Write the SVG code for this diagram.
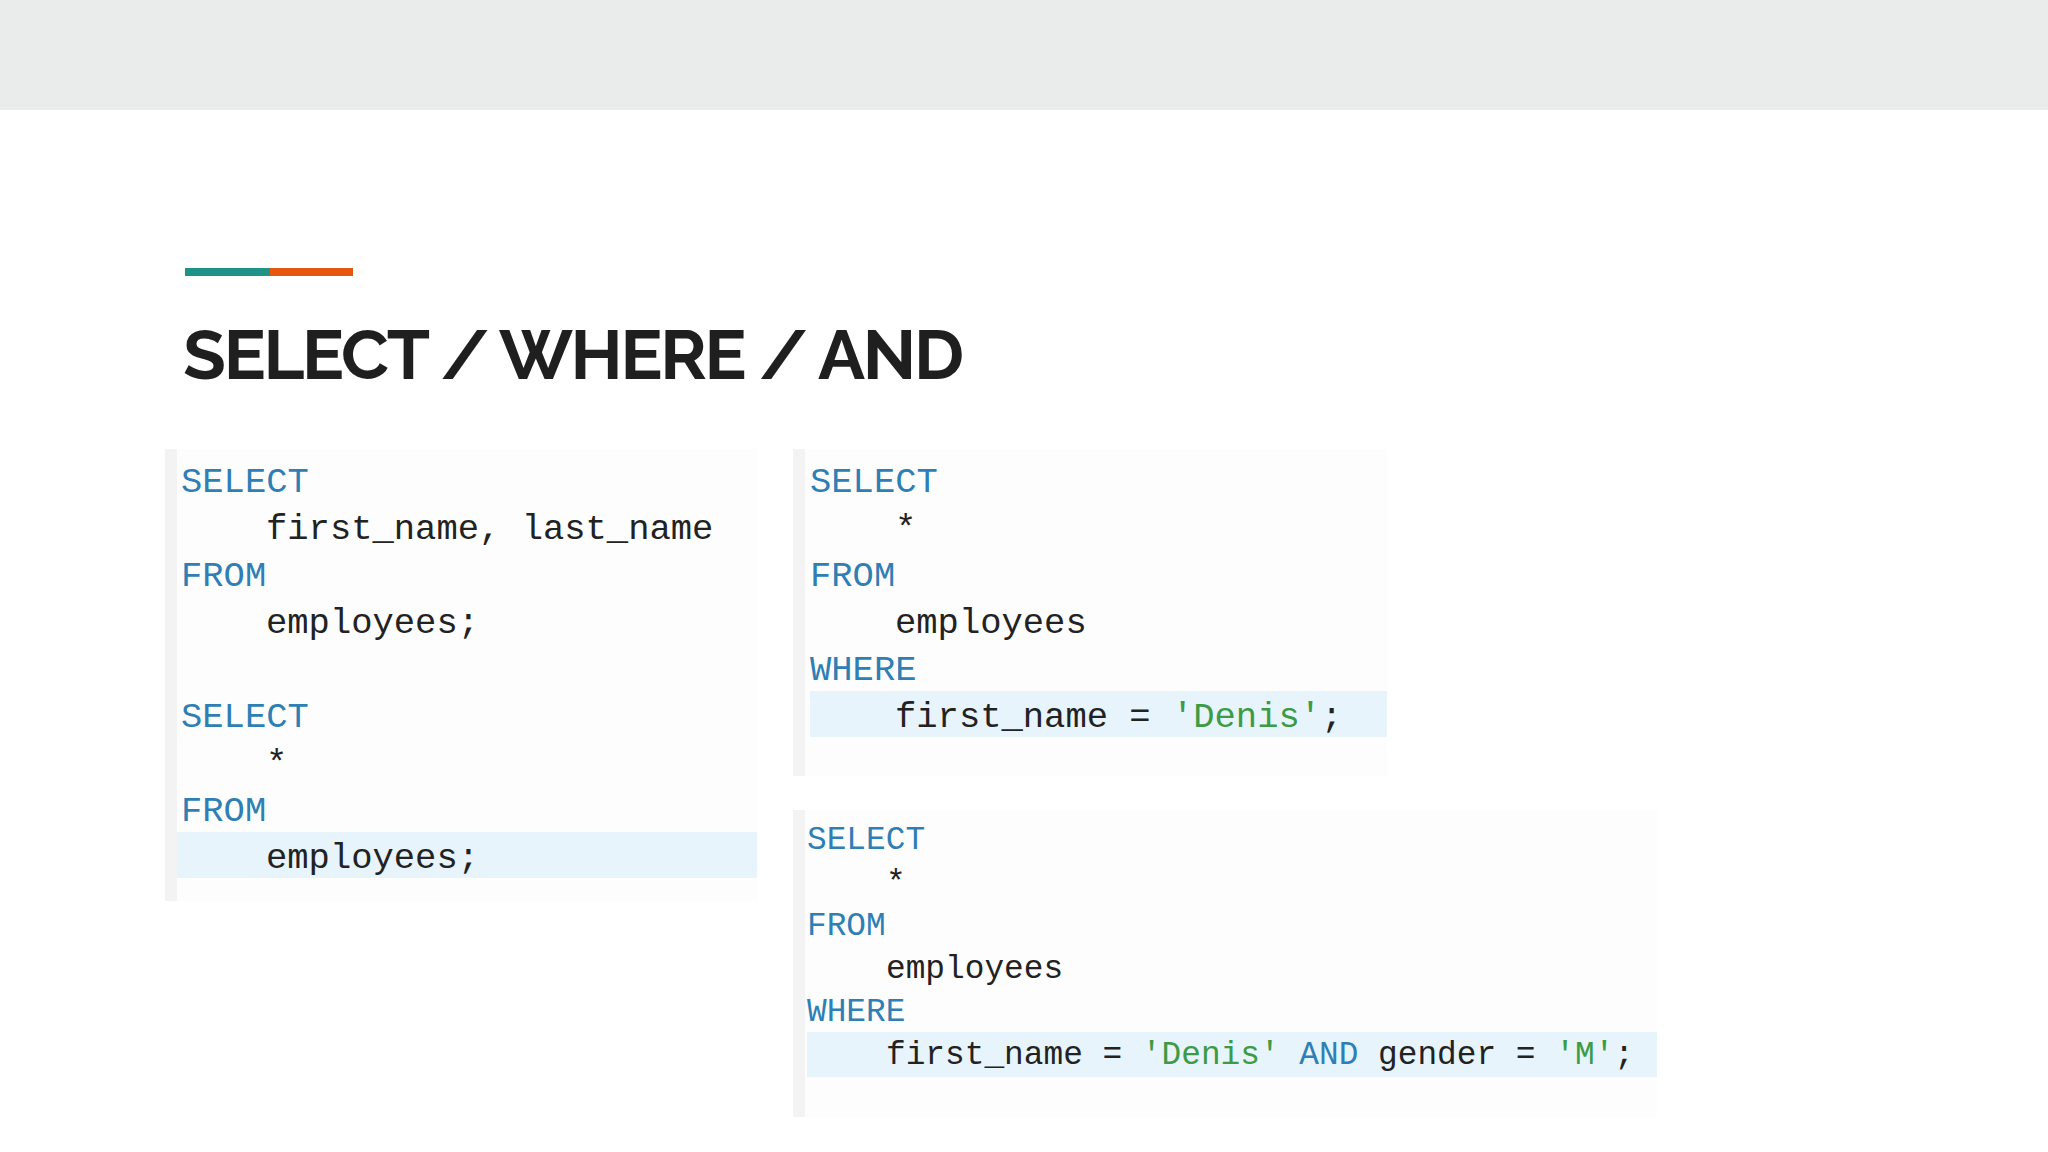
<svg xmlns="http://www.w3.org/2000/svg" width="2048" height="1152" viewBox="0 0 2048 1152">
<style>
.c{font-family:"Liberation Mono","DejaVu Sans Mono",monospace;fill:#222}
.b1{font-size:35.5px}.b3{font-size:32.8px}
.k{fill:#2f7fb5}.s{fill:#3d9a45}
.panel{fill:#fdfdfd}.hl{fill:#e7f4fc}
</style>
<rect width="2048" height="110" fill="#e9ecea"/>
<rect x="185" y="268" width="85" height="8" fill="#1e9386"/>
<rect x="270" y="268" width="83" height="8" fill="#e5560f"/>
<text x="183" y="379" font-family="Raleway,'Liberation Sans',sans-serif" font-weight="bold" font-size="70" fill="#1f1f1f" textLength="781">SELECT / WHERE / AND</text>
<g id="block1">
<rect class="panel" x="165" y="449" width="592" height="452"/>
<rect x="165" y="449" width="12" height="452" fill="#f3f3f3"/>
<rect class="hl" x="177" y="832" width="580" height="46"/>
<text class="c b1" x="181" y="492"><tspan class="k">SELECT</tspan></text>
<text class="c b1" x="266" y="539">first_name, last_name</text>
<text class="c b1 k" x="181" y="586">FROM</text>
<text class="c b1" x="266" y="633">employees;</text>
<text class="c b1 k" x="181" y="727">SELECT</text>
<text class="c b1" x="266" y="774">*</text>
<text class="c b1 k" x="181" y="821">FROM</text>
<text class="c b1" x="266" y="868">employees;</text>
</g>
<g id="block2">
<rect class="panel" x="793" y="449" width="594" height="327"/>
<rect x="793" y="449" width="12" height="327" fill="#f3f3f3"/>
<rect class="hl" x="810" y="691" width="577" height="46"/>
<text class="c b1 k" x="810" y="492">SELECT</text>
<text class="c b1" x="895" y="539">*</text>
<text class="c b1 k" x="810" y="586">FROM</text>
<text class="c b1" x="895" y="633">employees</text>
<text class="c b1 k" x="810" y="680">WHERE</text>
<text class="c b1" x="895" y="727">first_name = <tspan class="s">'Denis'</tspan>;</text>
</g>
<g id="block3">
<rect class="panel" x="793" y="810" width="864" height="307"/>
<rect x="793" y="810" width="12" height="307" fill="#f3f3f3"/>
<rect class="hl" x="807" y="1032" width="850" height="45"/>
<text class="c b3 k" x="807" y="849">SELECT</text>
<text class="c b3" x="886" y="892">*</text>
<text class="c b3 k" x="807" y="935">FROM</text>
<text class="c b3" x="886" y="978">employees</text>
<text class="c b3 k" x="807" y="1021">WHERE</text>
<text class="c b3" x="886" y="1064">first_name = <tspan class="s">'Denis'</tspan> <tspan class="k">AND</tspan> gender = <tspan class="s">'M'</tspan>;</text>
</g>
</svg>
